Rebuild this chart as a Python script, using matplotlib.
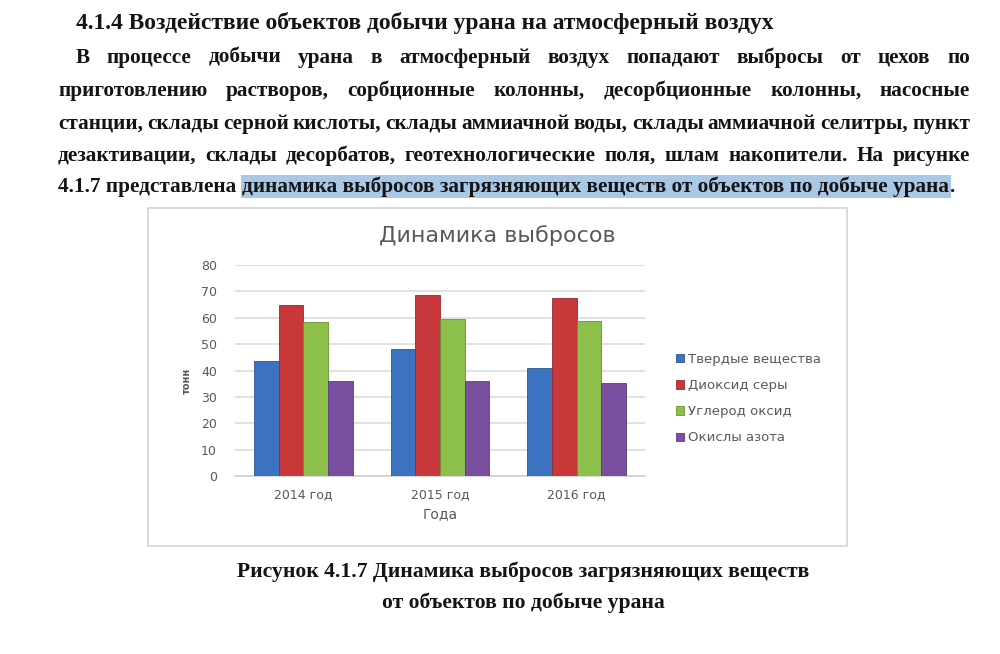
import matplotlib
matplotlib.use("Agg")
import numpy as np
from matplotlib import pyplot as plt
from matplotlib.patches import Rectangle

# данные диаграммы
years = ["2014 год", "2015 год", "2016 год"]
series = ["Твердые вещества", "Диоксид серы", "Углерод оксид", "Окислы азота"]
tverdye = [43.7, 48.0, 40.9]
dioksid = [65.0, 68.7, 67.5]
uglerod = [58.4, 59.4, 58.9]
okisly = [36.2, 36.0, 35.4]
colors = ["#3d72c0", "#c8383a", "#8dc04a", "#7a4fa0"]
edges = ["#2d5592", "#962a2c", "#6a9036", "#5b3b78"]
yticks = [0, 10, 20, 30, 40, 50, 60, 70, 80]

heading = "4.1.4 Воздействие объектов добычи урана на атмосферный воздух"
para = [
    "В процессе добычи урана в атмосферный воздух попадают выбросы от цехов по",
    "приготовлению растворов, сорбционные колонны, десорбционные колонны, насосные",
    "станции, склады серной кислоты, склады аммиачной воды, склады аммиачной селитры, пункт",
    "дезактивации, склады десорбатов, геотехнологические поля, шлам накопители. На рисунке",
]
last_a = "4.1.7 представлена "
last_b = "динамика выбросов загрязняющих веществ от объектов по добыче урана"
last_c = "."
caption = ["Рисунок 4.1.7 Динамика выбросов загрязняющих веществ",
           "от объектов по добыче урана"]

serif = "Liberation Serif"
sans = ["DejaVu Sans"]
ink = "#141414"
grey = "#595959"

fig = plt.figure(figsize=(10, 6.54), dpi=100)
page = fig.add_axes([0, 0, 1, 1], facecolor="none")
page.set_xlim(0, 1000)
page.set_ylim(654, 0)
page.axis("off")
r = fig.canvas.get_renderer()


def width_of(txt, size, weight="normal"):
    t = page.text(0, 0, txt, fontsize=size, family=serif, weight=weight)
    w = t.get_window_extent(r).width
    t.remove()
    return w


def fit(txt, w, weight="normal"):
    return 10 * w / width_of(txt, 10, weight)


bw_body = "bold"

# заголовок
hs = fit(heading, 697, "bold")
page.text(76, 29, heading, fontsize=hs, family=serif, weight="bold",
          color=ink, va="baseline")

# абзац, по ширине
bs = fit(last_a + last_b + last_c, 897, bw_body)
sp = width_of("a b", bs, bw_body) - width_of("ab", bs, bw_body)
base = [63, 96, 129, 161]
for i, line in enumerate(para):
    x0 = 76 if i == 0 else 58
    words = line.split()
    ws = [width_of(w, bs, bw_body) for w in words]
    gap = (970 - x0 - sum(ws)) / (len(words) - 1)
    x = x0
    for w, wd in zip(words, ws):
        page.text(x, base[i], w, fontsize=bs, family=serif, color=ink,
                  va="baseline", weight=bw_body)
        x += wd + gap

y5 = 192
page.text(58, y5, last_a, fontsize=bs, family=serif, color=ink,
          va="baseline", weight=bw_body)
xa = 58 + width_of(last_a.strip(), bs, bw_body) + sp
page.text(xa, y5, last_b, fontsize=bs, family=serif, color=ink,
          va="baseline", zorder=3, weight=bw_body)
wb = width_of(last_b, bs, bw_body)
page.add_patch(Rectangle((xa - 1, 175), wb + 3, 23, facecolor="#a9c8e6",
                         edgecolor="none", zorder=1))
page.text(xa + wb, y5, last_c, fontsize=bs, family=serif, color=ink,
          va="baseline", weight=bw_body)

# подпись
cs = fit(caption[0], 573, "bold")
for txt, yb in zip(caption, [577, 608]):
    page.text(523, yb, txt, fontsize=cs, family=serif, weight="bold",
              color=ink, va="baseline", ha="center")

# рамка диаграммы
page.add_patch(Rectangle((148, 208), 699, 338, facecolor="white",
                         edgecolor="#d4d4d4", lw=1.2, zorder=0))
page.text(497, 236, "Динамика выбросов", fontsize=16, family=sans,
          color=grey, ha="center", va="center")

ax = fig.add_axes([0.235, 1 - 476 / 654, 0.41, 211 / 654], facecolor="none")
x = np.arange(len(years))
vals = [tverdye, dioksid, uglerod, okisly]
bw = 0.18
for k, (name, v) in enumerate(zip(series, vals)):
    ax.bar(x + (k - 1.5) * bw, v, bw, color=colors[k], edgecolor=edges[k],
           lw=0.6, label=name, zorder=3)

ax.set_xlim(-0.5, 2.5)
ax.set_ylim(0, 80)
ax.set_yticks(yticks)
ax.set_xticks(x)
ax.set_xticklabels(years)
ax.grid(axis="y", color="#dcdcdc", lw=1.2, zorder=0)
for s in ["top", "right", "left"]:
    ax.spines[s].set_visible(False)
ax.spines["bottom"].set_color("#d0d0d0")
ax.spines["bottom"].set_linewidth(1.2)
ax.tick_params(length=0, colors=grey, labelsize=9)
ax.tick_params(axis="y", pad=13)
ax.tick_params(axis="x", pad=9)
for lab in ax.get_xticklabels() + ax.get_yticklabels():
    lab.set_family(sans)
ax.set_xlabel("Года", fontsize=10, color=grey, family=sans, labelpad=4)
page.text(187, 381, "тонн", fontsize=7, family=sans, color=grey,
          rotation=90, ha="center", va="center", weight="bold")

leg = ax.legend(loc="upper left", bbox_to_anchor=(664 / 1000, 1 - 341 / 654),
                bbox_transform=fig.transFigure, frameon=False,
                handlelength=0.6, handleheight=0.6, handletextpad=0.3,
                labelspacing=1.0, prop={"family": sans, "size": 9.5})
for t in leg.get_texts():
    t.set_color(grey)

fig.savefig("out.png", dpi=100, facecolor="white")
